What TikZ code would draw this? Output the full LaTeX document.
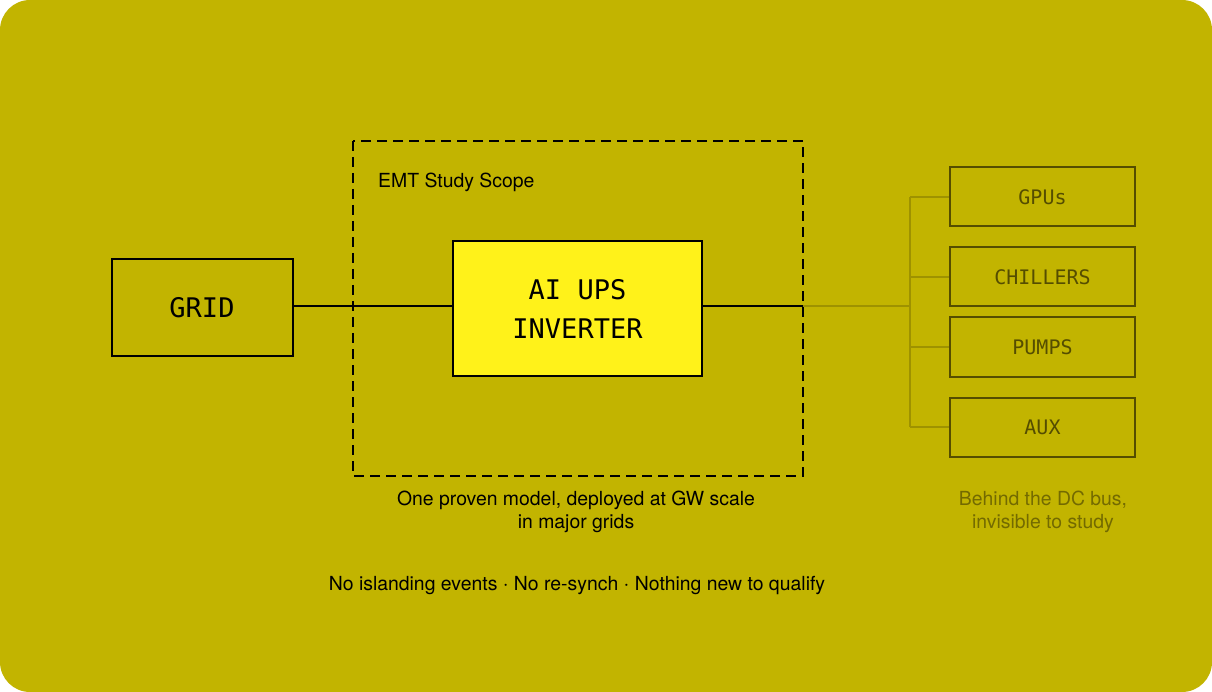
\documentclass[tikz,border=0pt]{standalone}
\usepackage{fontspec}
\setmainfont{TeX Gyre Heros}
\newfontfamily\monof{DejaVu Sans Mono}
\definecolor{bg}{HTML}{C2B400}
\definecolor{invfill}{HTML}{FFF21A}
\definecolor{darkol}{HTML}{554D00}
\definecolor{busol}{HTML}{9E9200}
\definecolor{capol}{HTML}{736A00}
\tikzset{
  mainbox/.style={draw=black, line width=2pt, inner sep=0pt, font=\monof\fontsize{27}{39}\selectfont, align=center},
  loadbox/.style={draw=darkol, line width=2pt, inner sep=0pt, minimum width=185pt, minimum height=59pt, text=darkol, font=\monof\fontsize{20}{22}\selectfont},
  wire/.style={line width=2pt, draw=black},
  buswire/.style={line width=2pt, draw=busol},
  caption/.style={font=\fontsize{19.4}{23}\selectfont, align=center, inner sep=0pt}
}
\begin{document}
\begin{tikzpicture}[x=1pt,y=-1pt]
\useasboundingbox (0,0) rectangle (1212,692);
\fill[white] (0,0) rectangle (1212,692);
\fill[bg, rounded corners=30pt] (0,0) rectangle (1212,692);
% study scope
\draw[line width=2pt, dash pattern=on 10pt off 6pt] (353,141) rectangle (803,476);
\node[anchor=west, font=\fontsize{19.4}{22}\selectfont, inner sep=0pt] (scope) at (378,182) {EMT Study Scope};
% main boxes
\node[mainbox, minimum width=181pt, minimum height=97pt] (grid) at (202,307.5) {GRID};
\node[mainbox, fill=invfill, minimum width=249pt, minimum height=135pt] (inv) at (577.5,308.5) {AI UPS\\INVERTER};
\coordinate (edge) at (803,306.5);
\coordinate (bus) at (910,306.5);
\draw[wire] (grid.east |- edge) -- (inv.west |- edge);
\draw[wire] (inv.east |- edge) -- (edge);
\draw[buswire] (edge) -- (bus);
% loads
\node[loadbox] (gpu) at (1042.5,197) {GPUs};
\node[loadbox] (chill) at (1042.5,277) {CHILLERS};
\node[loadbox] (pump) at (1042.5,347) {PUMPS};
\node[loadbox] (aux) at (1042.5,427) {AUX};
\coordinate (bustop) at (910,197);
\coordinate (busbot) at (910,427);
\draw[buswire] (bustop) -- (busbot);
\draw[buswire] (bustop) -- (gpu.west);
\draw[buswire] (910,277) -- (chill.west);
\draw[buswire] (910,347) -- (pump.west);
\draw[buswire] (busbot) -- (aux.west);
% captions
\node[caption, text=capol] (cap2) at (1043,511.5) {Behind the DC bus,\\invisible to study};
\node[caption] (cap1) at (576,511.5) {One proven model, deployed at GW scale\\in major grids};
\node[caption] (cap3) at (577,586) {No islanding events $\cdot$ No re-synch $\cdot$ Nothing new to qualify};
\end{tikzpicture}
\end{document}
